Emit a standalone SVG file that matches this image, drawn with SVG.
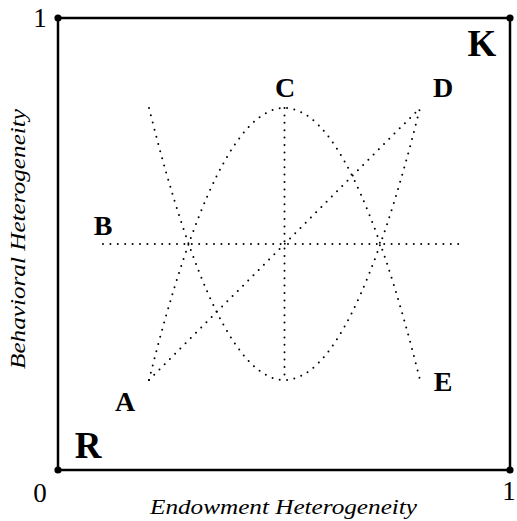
<svg xmlns="http://www.w3.org/2000/svg" width="517" height="521" viewBox="0 0 517 521">
<style>
.dot{fill:none;stroke:#000;stroke-width:2;stroke-linecap:round;stroke-dasharray:0 7.4}
.frame{fill:none;stroke:#000;stroke-width:2.5}
.lbl{font-family:"Liberation Serif",serif;font-weight:bold;text-anchor:middle;fill:#000}
.num{font-family:"Liberation Serif",serif;font-size:27px;text-anchor:middle;fill:#000}
.ax{font-family:"Liberation Serif",serif;font-style:italic;font-size:20px;text-anchor:middle;fill:#000}
</style>
<rect width="517" height="521" fill="#fff"/>
<g id="frame">
<rect class="frame" x="58" y="18" width="452" height="452"/>
<circle cx="58" cy="18" r="3.6"/>
<circle cx="510" cy="18" r="3.6"/>
<circle cx="58" cy="470" r="3.6"/>
<circle cx="510" cy="470" r="3.6"/>
</g>
<g id="connectors">
<path class="dot" d="M149,380 Q284.5,-164 420,380"/>
<path class="dot" d="M149,108 Q284.5,652 420,108"/>
<path class="dot" d="M149,380 L420,108"/>
<path class="dot" d="M284.5,108 L284.5,380"/>
<path class="dot" d="M103,244 L463,244"/>
</g>
<g id="A"><text class="lbl" x="125" y="411" font-size="28">A</text></g>
<g id="B"><text class="lbl" x="103" y="235" font-size="28">B</text></g>
<g id="C"><text class="lbl" x="285" y="97" font-size="28">C</text></g>
<g id="D"><text class="lbl" x="443" y="97" font-size="28">D</text></g>
<g id="E"><text class="lbl" x="443" y="391" font-size="28">E</text></g>
<g id="K"><text class="lbl" x="482" y="56" font-size="37">K</text></g>
<g id="R"><text class="lbl" x="88" y="458" font-size="37">R</text></g>
<g id="ticks">
<text class="num" x="40" y="27">1</text>
<text class="num" x="40" y="502">0</text>
<text class="num" x="509" y="500">1</text>
</g>
<g id="axes">
<text class="ax" x="283.5" y="514" textLength="267" lengthAdjust="spacingAndGlyphs">Endowment Heterogeneity</text>
<text class="ax" transform="translate(25,239) rotate(-90)" x="0" y="0" textLength="260" lengthAdjust="spacingAndGlyphs">Behavioral Heterogeneity</text>
</g>
</svg>
